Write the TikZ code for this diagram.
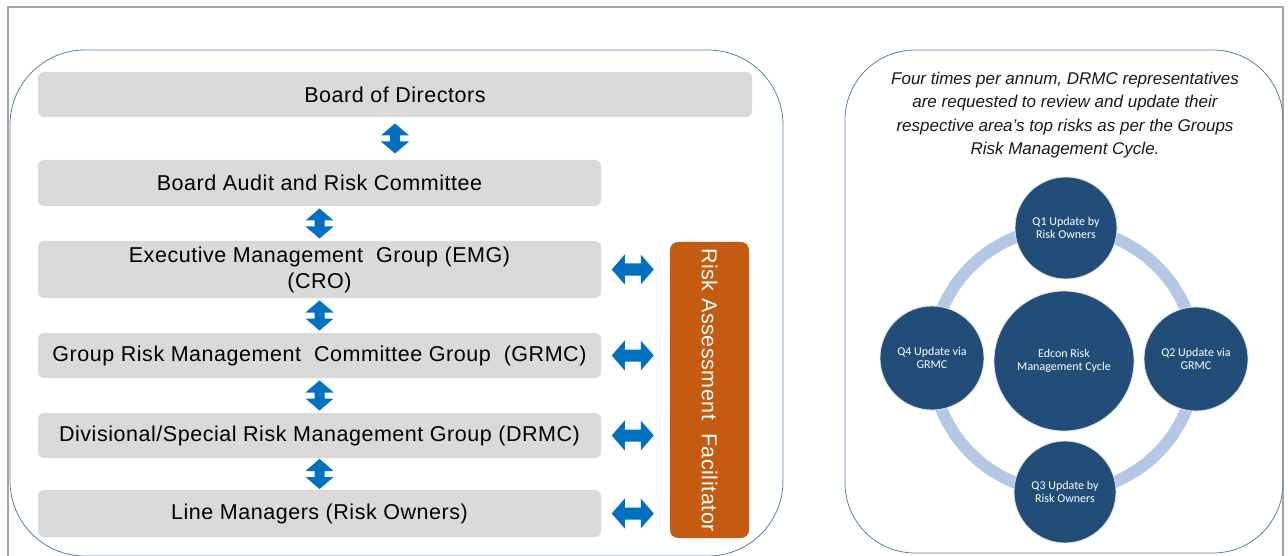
\documentclass[tikz,border=0pt]{standalone}
\usepackage{fontspec}
\setmainfont{Liberation Sans}
\newfontfamily\boxfont[LetterSpace=2.5]{Liberation Sans}
\newfontfamily\calfont{Carlito}
\usetikzlibrary{calc}
\definecolor{boxgray}{HTML}{D9D9D9}
\definecolor{arrowblue}{HTML}{0070C0}
\definecolor{orangebox}{HTML}{C55A11}
\definecolor{panelline}{HTML}{5B80A8}
\definecolor{framegray}{HTML}{A6A6A6}
\definecolor{ringblue}{HTML}{B4C7E7}
\definecolor{circblue}{HTML}{214D78}
\begin{document}
\begin{tikzpicture}[x=1pt,y=-1pt,
  box/.style={fill=boxgray, rounded corners=6pt, inner sep=0pt, text=black,
    font=\boxfont\fontsize{21.5}{26}\selectfont, align=center},
  circ/.style={circle, fill=circblue, draw=white!85!circblue, line width=0.8pt,
    inner sep=0pt, text=white, align=center, font=\calfont\fontsize{12}{13}\selectfont},
  vdarrow/.pic={\fill[arrowblue] (0,-15)--(14,-3)--(5,-3)--(5,3)--(14,3)--(0,15)--(-14,3)--(-5,3)--(-5,-3)--(-14,-3)--cycle;},
  hdarrow/.pic={\fill[arrowblue] (-21,0)--(-8,-15)--(-8,-6)--(8,-6)--(8,-15)--(21,0)--(8,15)--(8,6)--(-8,6)--(-8,15)--cycle;}
]
\useasboundingbox (0,0) rectangle (1288,556);
\clip (0,0) rectangle (1288,556);
\fill[white] (0,0) rectangle (1288,556);
% outer frame
\draw[framegray, line width=1.2pt] (8,7) rectangle (1283,600);
% panels
\draw[panelline, line width=0.8pt, rounded corners=75pt] (10,50) rectangle (783,556);
\draw[panelline, line width=0.8pt, rounded corners=70pt] (845,50) rectangle (1283,553);

% left hierarchy
\node[box, minimum width=714, minimum height=45] (bod) at (395,94.5) {Board of Directors};
\node[box, minimum width=563, minimum height=46] (barc) at (319.5,183) {Board Audit and Risk Committee};
\node[box, minimum width=563, minimum height=57] (emg) at (319.5,269.5) {Executive Management \ Group (EMG)\\(CRO)};
\node[box, minimum width=563, minimum height=45] (grmc) at (319.5,355.5) {Group Risk Management \ Committee Group \ (GRMC)};
\node[box, minimum width=563, minimum height=45] (drmc) at (319.5,435.5) {Divisional/Special Risk Management Group (DRMC)};
\node[box, minimum width=563, minimum height=47] (lm) at (319.5,513.5) {Line Managers (Risk Owners)};

\node[fill=orangebox, rounded corners=8pt, minimum width=79, minimum height=296, inner sep=0pt] (raf) at (709.5,390) {};
\node[rotate=-90, text=white, font=\boxfont\fontsize{21.5}{24}\selectfont] (raft) at (raf.center) {Risk Assessment \ Facilitator};

% vertical double arrows
\pic at ($(bod.south)!0.5!(bod.south|-barc.north)$) {vdarrow};
\pic at ($(barc.south)!0.5!(emg.north)$) {vdarrow};
\pic at ($(emg.south)!0.5!(grmc.north)$) {vdarrow};
\pic at ($(grmc.south)!0.5!(drmc.north)$) {vdarrow};
\pic at ($(drmc.south)!0.5!(lm.north)$) {vdarrow};

% horizontal double arrows
\pic at ($(emg.east)!0.46!(raf.west|-emg.east)$) {hdarrow};
\pic at ($(grmc.east)!0.46!(raf.west|-grmc.east)$) {hdarrow};
\pic at ($(drmc.east)!0.46!(raf.west|-drmc.east)$) {hdarrow};
\pic at ($(lm.east)!0.46!(raf.west|-lm.east)$) {hdarrow};

% right panel
\node[align=center, font=\itshape\fontsize{17}{23.5}\selectfont, text=black!90] (intro) at (1065,115)
  {Four times per annum, DRMC representatives\\are requested to review and update their\\respective area’s top risks as per the Groups\\Risk Management Cycle.};

\draw[ringblue, line width=12pt] (1064,360) circle (132);
\node[circ, minimum size=140] (center) at (1064,361) {Edcon Risk\\Management Cycle};
\node[circ, minimum size=102] (q1) at (1066,228) {Q1 Update by\\Risk Owners};
\node[circ, minimum size=104] (q2) at (1196,359) {Q2 Update via\\GRMC};
\node[circ, minimum size=102] (q3) at (1065,492) {Q3 Update by\\Risk Owners};
\node[circ, minimum size=104] (q4) at (932,358) {Q4 Update via\\GRMC};
\end{tikzpicture}
\end{document}
